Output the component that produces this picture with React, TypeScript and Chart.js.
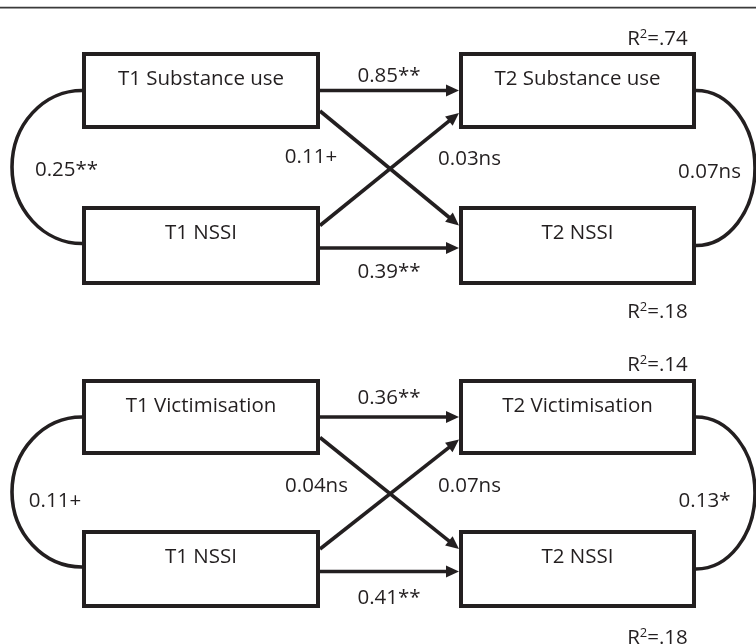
import React, { useEffect, useRef } from "react";
import { Chart, registerables } from "chart.js";

Chart.register(...registerables);

// ---------- data ----------
const predictorNames = ["Substance use", "Victimisation"];
const outcomeName = "NSSI";
const timeLabels = ["T1", "T2"];
const autoregPredictor = ["0.85**", "0.36**"];
const autoregNSSI = ["0.39**", "0.41**"];
const crossPredictorToNSSI = ["0.11+", "0.04ns"];
const crossNSSIToPredictor = ["0.03ns", "0.07ns"];
const covT1 = ["0.25**", "0.11+"];
const covT2 = ["0.07ns", "0.13*"];
const r2Predictor = [".74", ".14"];
const r2NSSI = [".18", ".18"];

// ---------- layout (diagram units = scale units) ----------
const W = 756;
const H = 644;
const colLeft = [82, 320];
const colRight = [459, 696];
const panelRows = [
  { top: [52, 129], bottom: [206, 285] },
  { top: [379, 455], bottom: [530, 608] },
];
const labelAnchors = [
  {
    autoP: [389, 82], autoN: [389, 278], crossPN: [311, 163], crossNP: [469.5, 165],
    cov1: [66.5, 176], cov2: [709.5, 178], r2P: [657.5, 45], r2N: [657.5, 318],
  },
  {
    autoP: [389, 404], autoN: [389, 604], crossPN: [316.5, 492], crossNP: [469.5, 492],
    cov1: [55, 507], cov2: [704.5, 507], r2P: [657.5, 371], r2N: [657.5, 644],
  },
];
const INK = "#231f20";
const FONT = "'Open Sans', 'Noto Sans', sans-serif";
const FONT_SIZE = 20.5;

const diagramPlugin = {
  id: "pathDiagram",
  afterDraw(chart: any) {
    const ctx: CanvasRenderingContext2D = chart.ctx;
    const xs = chart.scales.x;
    const ys = chart.scales.y;
    const px = (v: number) => xs.getPixelForValue(v);
    const py = (v: number) => ys.getPixelForValue(v);

    ctx.save();
    ctx.strokeStyle = INK;
    ctx.fillStyle = INK;

    // top rule
    ctx.strokeStyle = "#3a3a3a";
    ctx.lineWidth = 1.6;
    ctx.beginPath();
    ctx.moveTo(px(0), py(7.6));
    ctx.lineTo(px(W), py(7.6));
    ctx.stroke();
    ctx.strokeStyle = INK;

    const box = (x0: number, x1: number, y0: number, y1: number, label: string) => {
      const lw = 4;
      ctx.lineWidth = lw;
      ctx.strokeRect(px(x0) + lw / 2, py(y0) + lw / 2, px(x1) - px(x0) - lw, py(y1) - py(y0) - lw);
      ctx.font = `${FONT_SIZE}px ${FONT}`;
      ctx.textAlign = "center";
      ctx.textBaseline = "alphabetic";
      ctx.fillText(label, (px(x0) + px(x1)) / 2, py(y0 + 33));
    };

    const arrow = (x0: number, y0: number, x1: number, y1: number) => {
      const ax = px(x0), ay = py(y0), bx = px(x1), by = py(y1);
      const ang = Math.atan2(by - ay, bx - ax);
      const len = 13, hw = 6;
      const cx = bx - len * Math.cos(ang), cy = by - len * Math.sin(ang);
      ctx.lineWidth = 3.6;
      ctx.lineCap = "butt";
      ctx.beginPath();
      ctx.moveTo(ax, ay);
      ctx.lineTo(cx + 2 * Math.cos(ang), cy + 2 * Math.sin(ang));
      ctx.stroke();
      ctx.beginPath();
      ctx.moveTo(bx, by);
      ctx.lineTo(cx + hw * Math.sin(ang), cy - hw * Math.cos(ang));
      ctx.lineTo(cx - hw * Math.sin(ang), cy + hw * Math.cos(ang));
      ctx.closePath();
      ctx.fill();
    };

    const arc = (x: number, yTop: number, yBot: number, rx: number, left: boolean) => {
      const cy = (py(yTop) + py(yBot)) / 2;
      const ry = (py(yBot) - py(yTop)) / 2;
      const rpx = Math.abs(px(x + rx) - px(x));
      ctx.lineWidth = 3.6;
      ctx.beginPath();
      ctx.ellipse(px(x), cy, rpx, ry, 0, -Math.PI / 2, Math.PI / 2, left);
      ctx.stroke();
    };

    const text = (s: string, at: number[]) => {
      ctx.font = `${FONT_SIZE}px ${FONT}`;
      ctx.textAlign = "center";
      ctx.textBaseline = "alphabetic";
      ctx.fillText(s, px(at[0]), py(at[1]));
    };

    const r2 = (val: string, at: number[]) => {
      const big = `${FONT_SIZE}px ${FONT}`;
      const small = `13px ${FONT}`;
      ctx.textAlign = "left";
      ctx.textBaseline = "alphabetic";
      ctx.font = big;
      const wR = ctx.measureText("R").width;
      const wRest = ctx.measureText("=" + val).width;
      ctx.font = small;
      const w2 = ctx.measureText("2").width;
      const total = wR + w2 + wRest;
      let x = px(at[0]) - total / 2;
      const y = py(at[1]);
      ctx.font = big;
      ctx.fillText("R", x, y);
      x += wR;
      ctx.font = small;
      ctx.fillText("2", x, y - 7.5);
      x += w2;
      ctx.font = big;
      ctx.fillText("=" + val, x, y);
    };

    predictorNames.forEach((pred, i) => {
      const rows = panelRows[i];
      const la = labelAnchors[i];
      const topC = (rows.top[0] + rows.top[1]) / 2;
      const botC = (rows.bottom[0] + rows.bottom[1]) / 2;

      box(colLeft[0], colLeft[1], rows.top[0], rows.top[1], `${timeLabels[0]} ${pred}`);
      box(colLeft[0], colLeft[1], rows.bottom[0], rows.bottom[1], `${timeLabels[0]} ${outcomeName}`);
      box(colRight[0], colRight[1], rows.top[0], rows.top[1], `${timeLabels[1]} ${pred}`);
      box(colRight[0], colRight[1], rows.bottom[0], rows.bottom[1], `${timeLabels[1]} ${outcomeName}`);

      arrow(colLeft[1], topC, colRight[0], topC);
      arrow(colLeft[1], botC + 2.5, colRight[0], botC + 2.5);
      arrow(colLeft[1], topC + 20.5, colRight[0], botC - 20);
      arrow(colLeft[1], botC - 20, colRight[0], topC + 22.5);

      arc(colLeft[0], topC, botC - 2, -70, true);
      arc(colRight[1], topC, botC, 59, false);

      text(autoregPredictor[i], la.autoP);
      text(autoregNSSI[i], la.autoN);
      text(crossPredictorToNSSI[i], la.crossPN);
      text(crossNSSIToPredictor[i], la.crossNP);
      text(covT1[i], la.cov1);
      text(covT2[i], la.cov2);
      r2(r2Predictor[i], la.r2P);
      r2(r2NSSI[i], la.r2N);
    });

    ctx.restore();
  },
};

export default function App() {
  const ref = useRef<HTMLCanvasElement | null>(null);

  useEffect(() => {
    if (!ref.current) return;
    const nodePoints = panelRows.flatMap((r) => [
      { x: (colLeft[0] + colLeft[1]) / 2, y: (r.top[0] + r.top[1]) / 2 },
      { x: (colLeft[0] + colLeft[1]) / 2, y: (r.bottom[0] + r.bottom[1]) / 2 },
      { x: (colRight[0] + colRight[1]) / 2, y: (r.top[0] + r.top[1]) / 2 },
      { x: (colRight[0] + colRight[1]) / 2, y: (r.bottom[0] + r.bottom[1]) / 2 },
    ]);
    const chart = new Chart(ref.current, {
      type: "scatter",
      data: {
        datasets: [{ data: nodePoints, pointRadius: 0, pointHoverRadius: 0 }],
      },
      options: {
        animation: false,
        responsive: false,
        maintainAspectRatio: false,
        events: [],
        layout: { padding: 0 },
        plugins: { legend: { display: false }, tooltip: { enabled: false } },
        scales: {
          x: { type: "linear", min: 0, max: W, display: false },
          y: { type: "linear", min: 0, max: H, reverse: true, display: false },
        },
      },
      plugins: [diagramPlugin],
    });
    return () => chart.destroy();
  }, []);

  return (
    <div style={{ position: "fixed", left: 0, top: 0, width: W, height: H, background: "#fff" }}>
      <canvas ref={ref} width={W} height={H} style={{ display: "block", width: W, height: H }} />
    </div>
  );
}
